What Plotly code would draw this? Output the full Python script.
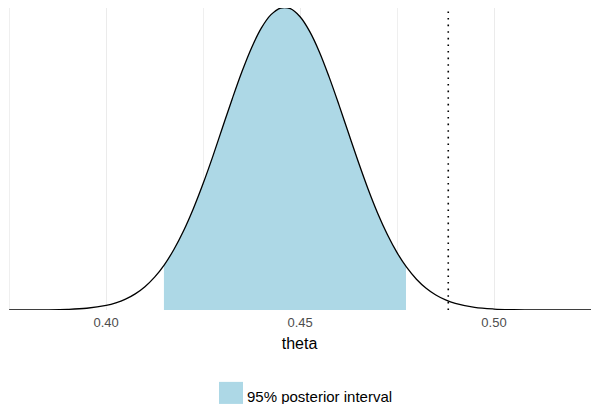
import plotly.graph_objects as go

# posterior density
theta = [0.375, 0.380, 0.385, 0.390, 0.395,
         0.4000, 0.4025, 0.4050, 0.4075, 0.4100, 0.4125, 0.4150, 0.4175, 0.4200, 0.4225,
         0.4250, 0.4275, 0.4300, 0.4325, 0.4350, 0.4375, 0.4400, 0.4425, 0.4450, 0.4475,
         0.4500, 0.4525, 0.4550, 0.4575, 0.4600, 0.4625, 0.4650, 0.4675, 0.4700, 0.4725,
         0.4750, 0.4775, 0.4800, 0.4825, 0.4850, 0.4875, 0.4900,
         0.495, 0.500, 0.505, 0.510, 0.515, 0.520, 0.525]
density = [0.0012, 0.005, 0.016, 0.051, 0.146,
           0.382, 0.594, 0.902, 1.338, 1.934, 2.725, 3.748, 5.036, 6.591, 8.418,
           10.485, 12.74, 15.13, 17.50, 19.75, 21.75, 23.37, 24.49, 25.04, 24.98,
           24.31, 23.08, 21.38, 19.31, 17.03, 14.65, 12.29, 10.06, 8.03, 6.26,
           4.757, 3.528, 2.552, 1.799, 1.239, 0.832, 0.545,
           0.217, 0.0785, 0.0257, 0.0076, 0.002, 0.0005, 0.0001]

# 95% posterior interval (shaded)
interval_theta = [0.4149, 0.4175, 0.4200, 0.4225, 0.4250, 0.4275, 0.4300, 0.4325,
                  0.4350, 0.4375, 0.4400, 0.4425, 0.4450, 0.4475, 0.4500, 0.4525,
                  0.4550, 0.4575, 0.4600, 0.4625, 0.4650, 0.4675, 0.4700, 0.4725,
                  0.4750, 0.4773]
interval_density = [3.70, 5.036, 6.591, 8.418, 10.485, 12.74, 15.13, 17.50,
                    19.75, 21.75, 23.37, 24.49, 25.04, 24.98, 24.31, 23.08,
                    21.38, 19.31, 17.03, 14.65, 12.29, 10.06, 8.03, 6.26,
                    4.757, 3.61]

reference_value = 0.4882
legend_label = "95% posterior interval"
x_title = "theta"

FONT = "Liberation Sans, Arial, Helvetica, sans-serif"
FILL = "#ADD8E6"

fig = go.Figure()
fig.add_trace(go.Scatter(
    x=interval_theta, y=interval_density, mode="lines",
    line=dict(width=0, shape="spline", smoothing=1),
    fill="tozeroy", fillcolor=FILL, showlegend=False, hoverinfo="skip"))
fig.add_trace(go.Scatter(
    x=theta, y=density, mode="lines",
    line=dict(color="black", width=1.3, shape="spline", smoothing=1),
    showlegend=False, cliponaxis=False))

ymax = max(density)
fig.add_shape(type="line", x0=reference_value, x1=reference_value, y0=0, y1=ymax,
              xref="x", yref="y", line=dict(color="black", width=1.6, dash="1.6px,5px"))

# legend key
fig.add_shape(type="rect", xref="paper", yref="paper",
              x0=0.3619, x1=0.4031, y0=-0.311, y1=-0.238,
              fillcolor=FILL, line=dict(width=0))
fig.add_annotation(text=legend_label, xref="paper", yref="paper",
                   x=0.4065, y=-0.285, xanchor="left", yanchor="middle",
                   showarrow=False, font=dict(family=FONT, size=15, color="black"))

fig.update_layout(
    width=591, height=404,
    margin=dict(l=8, r=0, t=8, b=94),
    paper_bgcolor="white", plot_bgcolor="white",
    font=dict(family=FONT),
    showlegend=False,
    xaxis=dict(
        range=[0.3747, 0.525], tick0=0.4, dtick=0.05, tickformat=".2f",
        showgrid=True, gridcolor="#EBEBEB", gridwidth=1.2,
        minor=dict(dtick=0.025, tick0=0.375, showgrid=True, gridcolor="#EFEFEF", gridwidth=1),
        zeroline=False, showline=False, ticks="", ticklabelstandoff=3,
        tickfont=dict(family=FONT, size=13, color="#4D4D4D"),
        title=dict(text=x_title, font=dict(family=FONT, size=16, color="black"), standoff=8),
    ),
    yaxis=dict(range=[0, ymax], showgrid=False, zeroline=False, showline=False,
               showticklabels=False, ticks=""),
)

fig.write_html("out.html")
